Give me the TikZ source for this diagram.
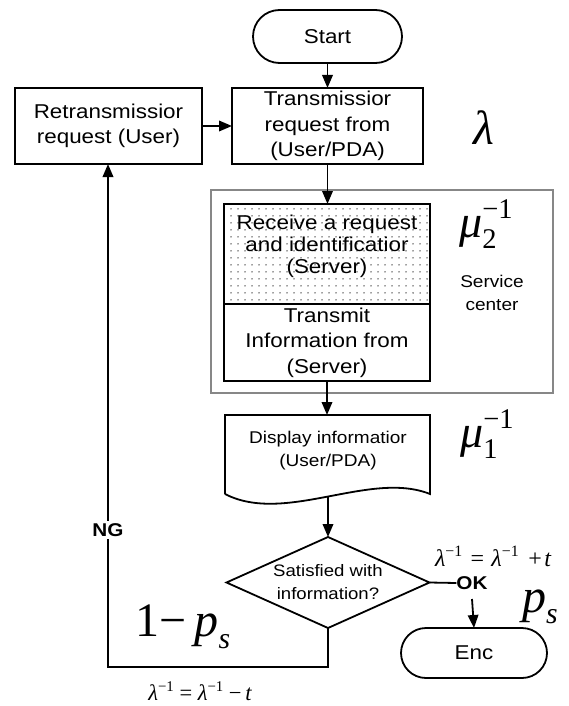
\documentclass[tikz,border=0pt]{standalone}
\usepackage{graphicx}
\usepackage{fontspec}
\setmainfont[FakeStretch=1.12]{Liberation Sans}
\newfontfamily\mfont{Liberation Serif}
\usetikzlibrary{arrows.meta,shapes.geometric,shapes.misc,patterns.meta}
\definecolor{svcgray}{RGB}{135,135,135}
\definecolor{dotgray}{RGB}{60,60,60}
% formula helpers in a serif face: italic letters, upright indices
\newcommand\mvar[1]{{\itshape #1}}
\newcommand\msup[1]{\raisebox{0.42em}{\scalebox{0.66}{\upshape #1}}}
\newcommand\msubsup[2]{\rlap{\raisebox{-0.24em}{\scalebox{0.62}{\upshape #1}}}\raisebox{0.42em}{\scalebox{0.62}{\upshape #2}}}
\newcommand\msubit[1]{\raisebox{-0.24em}{\scalebox{0.62}{\itshape #1}}}

\begin{document}
\begin{tikzpicture}[x=1pt,y=-1pt,
  every node/.style={inner sep=0pt, outer sep=0pt},
  line/.style={line width=1.8pt},
  arr/.style={line width=1.8pt,-{Triangle[length=13pt,width=10.5pt]}},
  box/.style={draw, line width=1.8pt, rectangle, align=center, fill=white},
  term/.style={draw, line width=1.8pt, rounded rectangle, align=center},
  txt/.style={font=\fontsize{20}{25.5}\selectfont, align=center},
  small/.style={font=\fontsize{17}{23}\selectfont, align=center},
  tag/.style={font=\fontsize{18.5}{22}\selectfont\bfseries},
  bigmath/.style={font=\mfont\fontsize{48}{52}\selectfont},
  mumath/.style={font=\mfont\fontsize{46}{50}\selectfont},
]
\useasboundingbox (0,0) rectangle (569,706);

% terminals and request boxes
\node[term, txt, minimum width=149pt, minimum height=53pt] (start) at (327.5,36.5) {Start};
\node[box, txt, minimum width=191pt, minimum height=76pt] (tx) at (327.5,126) {Transmissior\\request from\\(User/PDA)};
\node[box, txt, minimum width=187pt, minimum height=76pt] (retx) at (108.5,126) {Retransmissior\\request (User)};
\node[bigmath] (lam) at (484,128) {\mvar{λ}};

% service center
\node[draw=svcgray, line width=1.2pt, minimum width=342pt, minimum height=203pt] (svc) at (382,291.5) {};
\node[box, minimum width=206pt, minimum height=100pt,
      pattern={Dots[radius=0.75pt,distance=7pt]}, pattern color=dotgray] (recv) at (327,254) {};
\node[txt, font=\fontsize{20}{22}\selectfont] (recvtext) at (327,246) {Receive a request\\and identificatior\\(Server)};
\node[box, txt, minimum width=206pt, minimum height=77pt] (trans) at (327,342.5) {Transmit\\Information from\\(Server)};
\node[mumath] (mu2) at (486,224) {\mvar{μ}\msubsup{2}{−1}};
\node[small] (svctext) at (492,293) {Service\\center};

% display (document shape with a wavy lower edge)
\coordinate (dtl) at (225,415);
\coordinate (dtr) at (430,415);
\coordinate (dbr) at (430,494);
\coordinate (dbl) at (225,494);
\coordinate (disptop) at (327,415);
\coordinate (dispbot) at (328,497);
\draw[line, line join=miter] (dbl) -- (dtl) -- (dtr) -- (dbr)
  .. controls (370,470) and (285,525) .. (dbl);
\node[small] (disptext) at (328,451) {Display informatior\\(User/PDA)};
\node[mumath] (mu1) at (487,434) {\mvar{μ}\msubsup{1}{−1}};

% decision
\node[diamond, draw, line width=1.8pt, aspect=2.23, minimum width=203pt, minimum height=91pt] (dec) at (328,582.5) {};
\node[small, font=\fontsize{16.6}{23}\selectfont] (dectext) at (328,582) {Satisfied with\\information?};

\node[tag] (ok) at (472,583) {OK};
\node[term, txt, minimum width=146pt, minimum height=50pt] (end) at (474,653) {Enc};
\node[font=\mfont\fontsize{24}{26}\selectfont] (eqplus) at (493,556)
  {\mvar{λ}\msup{−1}\hspace{0.35em}=\hspace{0.3em}\mvar{λ}\msup{−1}\hspace{0.4em}+\hspace{0.1em}\mvar{t}};
\node[bigmath] (ps) at (540,607) {\mvar{p}\msubit{s}};
\node[bigmath] (qs) at (183,627) {1−\,\mvar{p}\msubit{s}};
\node[font=\mfont\fontsize{22.5}{24}\selectfont] (eqminus) at (200,691)
  {\mvar{λ}\msup{−1} = \mvar{λ}\msup{−1} −\,\mvar{t}};

% connectors
\draw[arr] (start.south) -- (tx.north);
\draw[arr] (retx.east) -- (tx.west);
\draw[arr] (tx.south) -- (tx.south |- recv.north);
\draw[arr] (trans.south) -- (disptop);
\draw[arr] (dispbot) -- (dec.north);
\draw[line] (dec.east) -- (ok.west);
\coordinate (okb) at (472,599);
\draw[arr] (okb) -- (end.north);
\coordinate (lb) at (108,667);
\draw[arr, line join=miter] (dec.south) |- (lb) -- (lb |- retx.south);
\node[tag, fill=white, inner sep=2pt] (ng) at (108,530) {NG};
\end{tikzpicture}
\end{document}
